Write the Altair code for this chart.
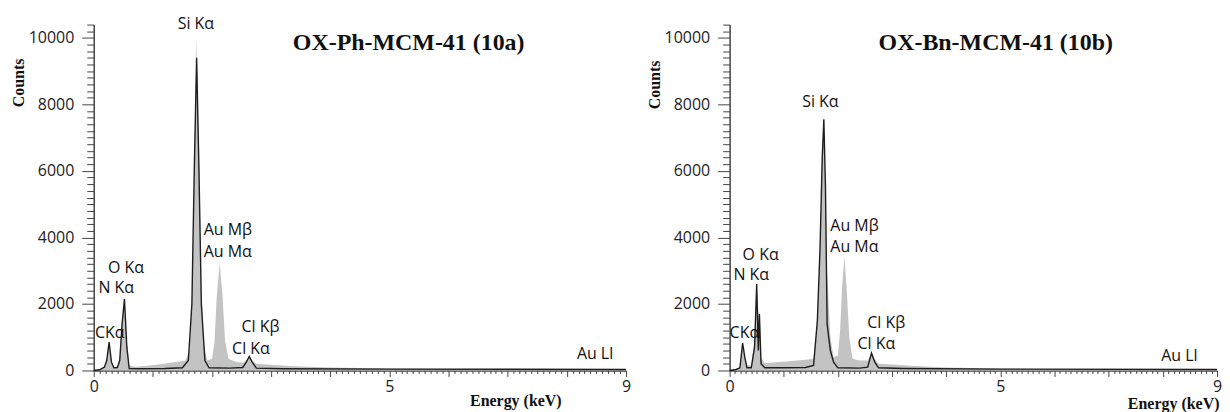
import altair as alt
import pandas as pd

# ---------------- data ----------------
# Panel (10a) OX-Ph-MCM-41
a_gray_e = [0.00, 0.10, 0.18, 0.22, 0.26, 0.30, 0.34, 0.40, 0.44, 0.48, 0.52, 0.56, 0.60, 0.70, 0.90,
            1.10, 1.30, 1.45, 1.55, 1.62, 1.66, 1.70, 1.74, 1.78, 1.82, 1.86, 1.92, 2.00, 2.04, 2.08,
            2.13, 2.18, 2.22, 2.28, 2.40, 2.52, 2.58, 2.63, 2.68, 2.75, 3.00, 3.40, 4.00, 5.00, 6.00,
            7.00, 8.00, 9.00]
a_gray_c = [0, 20, 60, 300, 850, 300, 110, 120, 400, 1500, 2150, 900, 150, 110, 140,
            180, 230, 270, 300, 600, 2000, 6000, 10000, 6500, 2500, 800, 300, 350, 800, 2200,
            3230, 2200, 900, 350, 260, 230, 300, 430, 300, 200, 170, 130, 90, 60, 45,
            35, 30, 25]
a_line_e = [0.00, 0.10, 0.18, 0.22, 0.26, 0.30, 0.34, 0.40, 0.44, 0.48, 0.52, 0.56, 0.60, 0.80, 1.20,
            1.50, 1.60, 1.66, 1.70, 1.74, 1.78, 1.82, 1.88, 1.95, 2.30, 2.52, 2.58, 2.63, 2.68, 2.75,
            3.20, 5.00, 9.00]
a_line_c = [0, 20, 100, 300, 850, 250, 80, 90, 300, 1400, 2150, 700, 60, 50, 60,
            80, 300, 2000, 6000, 9400, 6000, 2000, 300, 80, 70, 90, 250, 420, 250, 70,
            50, 40, 30]

# Panel (10b) OX-Bn-MCM-41
b_gray_e = [0.00, 0.12, 0.19, 0.24, 0.28, 0.32, 0.40, 0.46, 0.50, 0.54, 0.58, 0.65, 0.80, 1.10, 1.40,
            1.55, 1.62, 1.67, 1.71, 1.74, 1.77, 1.80, 1.86, 1.92, 2.00, 2.04, 2.08, 2.12, 2.16, 2.21,
            2.27, 2.40, 2.55, 2.62, 2.68, 2.75, 3.00, 3.50, 4.00, 5.00, 6.00, 7.00, 8.00, 9.00]
b_gray_c = [0, 30, 100, 800, 400, 150, 150, 900, 2500, 1600, 400, 220, 240, 280, 320,
            350, 1500, 3700, 6400, 7500, 5500, 3000, 1000, 400, 450, 1200, 2600, 3430, 2500, 1000,
            350, 300, 300, 550, 350, 200, 180, 130, 90, 60, 40, 35, 30, 25]
b_line_e = [0.00, 0.12, 0.19, 0.24, 0.28, 0.32, 0.40, 0.46, 0.50, 0.53, 0.55, 0.58, 0.65, 1.00, 1.40,
            1.55, 1.62, 1.67, 1.71, 1.74, 1.77, 1.80, 1.86, 1.92, 2.00, 2.40, 2.55, 2.62, 2.68, 2.75,
            3.20, 5.00, 9.00]
b_line_c = [0, 30, 80, 820, 400, 80, 80, 700, 2600, 600, 1700, 200, 80, 80, 90,
            150, 1500, 3700, 6400, 7550, 5500, 1400, 600, 250, 80, 70, 100, 520, 250, 80,
            60, 40, 30]

# Peak labels
peak_labels = ["Si Kα", "Au Mβ", "Au Mα", "O Kα", "N Kα", "CKα", "Cl Kβ", "Cl Kα", "Au Ll"]
a_label_e = [1.42, 1.86, 1.86, 0.24, 0.08, 0.02, 2.50, 2.34, 8.17]
a_label_c = [10420, 4220, 3560, 3080, 2480, 1140, 1310, 650, 480]
b_label_e = [1.34, 1.86, 1.86, 0.24, 0.07, 0.00, 2.54, 2.36, 7.97]
b_label_c = [8060, 4330, 3700, 3470, 2870, 1130, 1420, 790, 420]

titles = ["OX-Ph-MCM-41 (10a)", "OX-Bn-MCM-41 (10b)"]

x_ticks = [round(i * 0.1, 1) for i in range(0, 91)]
x_labelled = [0, 5, 9]
y_ticks = list(range(0, 10401, 200))

GRAY = "#c3c3c3"
LINE = "#1e1e1e"
SANS = "Open Sans"
SERIF = "Liberation Serif"

x_label_test = " || ".join(f"abs(datum.value - {v}) < 0.01" for v in x_labelled)


def panel(ge, gc, le, lc, lab_e, lab_c, title, width, height,
          title_x, xt_x, xt_y, yt_y):
    gray = pd.DataFrame({"energy": ge, "counts": gc})
    line = pd.DataFrame({"energy": le, "counts": lc})
    labs = pd.DataFrame({"label": peak_labels, "energy": lab_e, "counts": lab_c})

    xscale = alt.Scale(domain=[0, 9], nice=False, zero=False)
    yscale = alt.Scale(domain=[0, 10400], nice=False)

    xaxis = alt.Axis(
        values=x_ticks,
        labelExpr=f"({x_label_test}) ? format(datum.value, 'd') : ''",
        labelOverlap=False, labelFlush=False,
        tickSize={"condition": {"test": "abs(datum.value - round(datum.value)) < 0.001", "value": 6},
                  "value": 3},
        labelPadding=2,
        title="Energy (keV)", titleX=xt_x, titleY=xt_y,
        titleAlign="center", titleBaseline="middle",
    )
    yaxis = alt.Axis(
        values=y_ticks, format="d",
        labelExpr="(datum.value % 2000 == 0) ? datum.label : ''",
        labelOverlap=False, labelFlush=False,
        tickSize={"condition": {"test": "datum.value % 2000 == 0", "value": 12}, "value": 7},
        labelPadding=8,
        title="Counts", titleX=-75.5, titleY=yt_y, titleAngle=-90,
        titleAlign="center", titleBaseline="middle",
    )

    X = alt.X("energy:Q", scale=xscale, axis=xaxis)
    Y = alt.Y("counts:Q", scale=yscale, axis=yaxis)

    area = alt.Chart(gray).mark_area(color=GRAY, interpolate="linear", opacity=1).encode(x=X, y=Y)
    ln = alt.Chart(line).mark_line(color=LINE, strokeWidth=1.4, interpolate="linear").encode(x=X, y=Y)
    txt = alt.Chart(labs).mark_text(
        align="left", baseline="middle", font=SANS, fontSize=16, color="#111"
    ).encode(x=X, y=Y, text="label:N")
    ttl = alt.Chart(pd.DataFrame({"t": [title]})).mark_text(
        align="center", baseline="middle", font=SERIF, fontSize=24, fontWeight="bold", color="#111"
    ).encode(x=alt.value(title_x), y=alt.value(18), text="t:N")

    return alt.layer(area, ln, txt, ttl).properties(width=width, height=height)


left = panel(a_gray_e, a_gray_c, a_line_e, a_line_c, a_label_e, a_label_c, titles[0],
             534, 347, 316, 423, 30, 58)
right = panel(b_gray_e, b_gray_c, b_line_e, b_line_c, b_label_e, b_label_c, titles[1],
              489, 347, 267, 445, 33, 60)

chart = alt.hconcat(left, right, spacing=15).properties(
    padding={"left": 2, "top": 7, "right": 0, "bottom": 0}
).configure_view(stroke=None).configure_axis(
    grid=False, labelOverlap=False,
    domainColor="#444", domainWidth=1.5,
    tickColor="#444", tickWidth=1,
    labelFont=SANS, labelFontSize=16, labelColor="#222",
    titleFont=SERIF, titleFontSize=16, titleFontWeight="bold", titleColor="#111",
)

chart.save("out.html", embed_options={"renderer": "svg", "actions": False})
